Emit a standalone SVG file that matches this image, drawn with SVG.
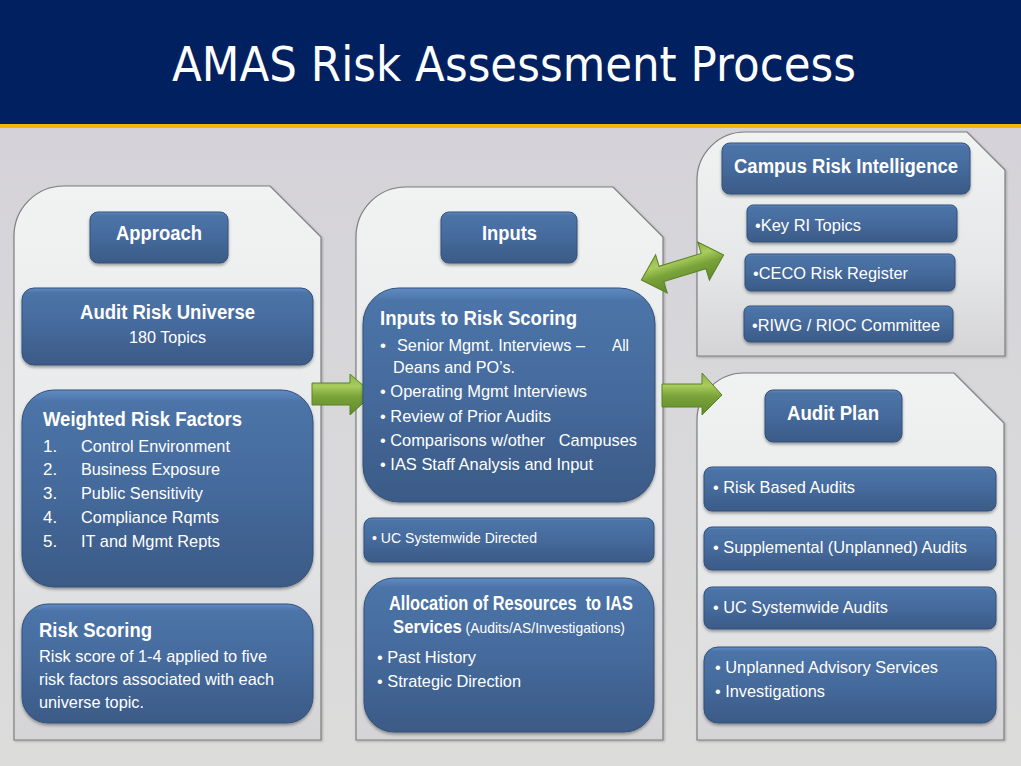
<svg xmlns="http://www.w3.org/2000/svg" width="1021" height="766" viewBox="0 0 1021 766">
<defs>
  <linearGradient id="bg" x1="0" y1="0" x2="0" y2="1">
    <stop offset="0" stop-color="#d3d1d8"/>
    <stop offset="1" stop-color="#dcdcdb"/>
  </linearGradient>
  <linearGradient id="panel" x1="0" y1="0" x2="0" y2="1">
    <stop offset="0" stop-color="#f1f2f2"/>
    <stop offset="0.6" stop-color="#e6e7e8"/>
    <stop offset="1" stop-color="#d4d4d6"/>
  </linearGradient>
  <linearGradient id="blue" x1="0" y1="0" x2="0" y2="1">
    <stop offset="0" stop-color="#5f8cc4"/>
    <stop offset="0.06" stop-color="#4c74a8"/>
    <stop offset="0.5" stop-color="#456a9c"/>
    <stop offset="1" stop-color="#3b5a86"/>
  </linearGradient>
  <linearGradient id="green" x1="0" y1="0" x2="0" y2="1">
    <stop offset="0" stop-color="#8db44a"/>
    <stop offset="0.3" stop-color="#a8cc5c"/>
    <stop offset="0.55" stop-color="#7aa33a"/>
    <stop offset="1" stop-color="#5f8a28"/>
  </linearGradient>
  <filter id="sh" x="-10%" y="-10%" width="120%" height="130%">
    <feDropShadow dx="0" dy="2" stdDeviation="1.5" flood-color="#000" flood-opacity="0.35"/>
  </filter>
  <filter id="psh" x="-5%" y="-5%" width="110%" height="110%">
    <feDropShadow dx="1" dy="1" stdDeviation="1" flood-color="#000" flood-opacity="0.25"/>
  </filter>
</defs>
<style>
  .panel { fill: url(#panel); stroke: #7f7f7f; stroke-width: 1.2; filter: url(#psh); }
  .box { fill: url(#blue); stroke: #34507a; stroke-width: 1; filter: url(#sh); }
  .arrow { fill: url(#green); stroke: #5a8226; stroke-width: 1; }
  text { fill: #ffffff; font-family: "Liberation Sans", Arial, sans-serif; }
  .h { font-weight: bold; font-size: 20px; }
  .t { font-size: 17px; }
  .s { font-size: 15px; }
  .pre { white-space: pre; }
  .title { font-family: "DejaVu Sans", "Liberation Sans", sans-serif; font-size: 48px; }
</style>

<rect x="0" y="0" width="1021" height="766" fill="url(#bg)"/>
<g id="header">
  <rect x="0" y="0" width="1021" height="124" fill="#002060"/>
  <rect x="0" y="124" width="1021" height="4" fill="#f5b800"/>
  <text class="title" x="172" y="81" textLength="684" lengthAdjust="spacingAndGlyphs">AMAS Risk Assessment Process</text>
</g>

<g id="panel-approach">
  <path class="panel" d="M14,236 A50,50 0 0 1 64,186 L270,186 L321,237 L321,740 L14,740 Z"/>
</g>
<g id="panel-inputs">
  <path class="panel" d="M356,237 A50,50 0 0 1 406,187 L613,187 L663,237 L663,740 L356,740 Z"/>
</g>
<g id="panel-campus">
  <path class="panel" d="M697,180 A48,48 0 0 1 745,132 L967,132 L1005,170 L1005,356 L697,356 Z"/>
</g>
<g id="panel-auditplan">
  <path class="panel" d="M697,420 A47,47 0 0 1 744,373 L954,373 L1004,423 L1004,740 L697,740 Z"/>
</g>

<g id="connectors">
  <polygon class="arrow" points="312,383 350,383 350,374 373,394 350,415 350,405 312,405"/>
  <polygon class="arrow" points="662,384 702,384 702,373 722,395 702,415 702,407 662,407"/>
  <g transform="translate(682.5,267.5) rotate(-17)">
    <polygon class="arrow" points="-43,0 -22,-20 -22,-8 22,-8 22,-20 43,0 22,20 22,8 -22,8 -22,20"/>
  </g>
</g>

<g id="approach">
  <rect class="box" x="90" y="212" width="138" height="51" rx="8"/>
  <text class="h" x="116" y="240" font-size="21" textLength="86" lengthAdjust="spacingAndGlyphs">Approach</text>
</g>
<g id="audit-risk-universe">
  <rect class="box" x="22" y="288" width="291" height="77" rx="12"/>
  <text class="h" x="80" y="319" textLength="175" lengthAdjust="spacingAndGlyphs">Audit Risk Universe</text>
  <text class="t" x="129" y="343" textLength="77" lengthAdjust="spacingAndGlyphs">180 Topics</text>
</g>
<g id="weighted-risk-factors">
  <rect class="box" x="22" y="390" width="291" height="197" rx="32"/>
  <text class="h" x="43" y="426" textLength="199" lengthAdjust="spacingAndGlyphs">Weighted Risk Factors</text>
  <text class="t" x="43" y="452">1.</text>
  <text class="t" x="81" y="452" textLength="149" lengthAdjust="spacingAndGlyphs">Control Environment</text>
  <text class="t" x="43" y="475">2.</text>
  <text class="t" x="81" y="475" textLength="139" lengthAdjust="spacingAndGlyphs">Business Exposure</text>
  <text class="t" x="43" y="499">3.</text>
  <text class="t" x="81" y="499" textLength="122" lengthAdjust="spacingAndGlyphs">Public Sensitivity</text>
  <text class="t" x="43" y="523">4.</text>
  <text class="t" x="81" y="523" textLength="138" lengthAdjust="spacingAndGlyphs">Compliance Rqmts</text>
  <text class="t" x="43" y="547">5.</text>
  <text class="t" x="81" y="547" textLength="139" lengthAdjust="spacingAndGlyphs">IT and Mgmt Repts</text>
</g>
<g id="risk-scoring">
  <rect class="box" x="22" y="604" width="291" height="119" rx="26"/>
  <text class="h" x="39" y="637" font-size="21" textLength="113" lengthAdjust="spacingAndGlyphs">Risk Scoring</text>
  <text class="t" x="39" y="662" textLength="228" lengthAdjust="spacingAndGlyphs">Risk score of 1-4 applied to five</text>
  <text class="t" x="39" y="685" textLength="235" lengthAdjust="spacingAndGlyphs">risk factors associated with each</text>
  <text class="t" x="39" y="708" textLength="105" lengthAdjust="spacingAndGlyphs">universe topic.</text>
</g>

<g id="inputs">
  <rect class="box" x="441" y="212" width="136" height="51" rx="8"/>
  <text class="h" x="482" y="240" textLength="55" lengthAdjust="spacingAndGlyphs">Inputs</text>
</g>
<g id="inputs-to-risk-scoring">
  <rect class="box" x="363" y="288" width="292" height="214" rx="36"/>
  <text class="h" x="380" y="325" textLength="197" lengthAdjust="spacingAndGlyphs">Inputs to Risk Scoring</text>
  <text class="t" x="380" y="351">•</text>
  <text class="t" x="397" y="351" textLength="188" lengthAdjust="spacingAndGlyphs">Senior Mgmt. Interviews –</text>
  <text class="t" x="612" y="351" textLength="17" lengthAdjust="spacingAndGlyphs">All</text>
  <text class="t" x="393" y="373" textLength="122" lengthAdjust="spacingAndGlyphs">Deans and PO’s.</text>
  <text class="t" x="380" y="397" textLength="207" lengthAdjust="spacingAndGlyphs">• Operating Mgmt Interviews</text>
  <text class="t" x="380" y="422" textLength="171" lengthAdjust="spacingAndGlyphs">• Review of Prior Audits</text>
  <text class="t pre" x="380" y="446" xml:space="preserve" textLength="257" lengthAdjust="spacingAndGlyphs">• Comparisons w/other   Campuses</text>
  <text class="t" x="380" y="470" textLength="213" lengthAdjust="spacingAndGlyphs">• IAS Staff Analysis and Input</text>
</g>
<g id="uc-systemwide-directed">
  <rect class="box" x="364" y="518" width="290" height="44" rx="8"/>
  <text class="s" x="372" y="543" textLength="165" lengthAdjust="spacingAndGlyphs">• UC Systemwide Directed</text>
</g>
<g id="allocation">
  <rect class="box" x="364" y="578" width="290" height="154" rx="30"/>
  <text class="h pre" x="389" y="610" font-size="18" xml:space="preserve" textLength="244" lengthAdjust="spacingAndGlyphs">Allocation of Resources  to IAS</text>
  <text x="393" y="633" textLength="232" lengthAdjust="spacingAndGlyphs"><tspan font-weight="bold" font-size="18">Services</tspan><tspan font-size="15"> (Audits/AS/Investigations)</tspan></text>
  <text class="t" x="377" y="663" textLength="99" lengthAdjust="spacingAndGlyphs">• Past History</text>
  <text class="t" x="377" y="687" textLength="144" lengthAdjust="spacingAndGlyphs">• Strategic Direction</text>
</g>

<g id="campus-risk-intelligence">
  <rect class="box" x="722" y="143" width="248" height="51" rx="8"/>
  <text class="h" x="734" y="173" textLength="224" lengthAdjust="spacingAndGlyphs">Campus Risk Intelligence</text>
</g>
<g id="key-ri-topics">
  <rect class="box" x="747" y="205" width="210" height="37" rx="6"/>
  <text class="t" x="755" y="231" textLength="106" lengthAdjust="spacingAndGlyphs">•Key RI Topics</text>
</g>
<g id="ceco-risk-register">
  <rect class="box" x="745" y="254" width="210" height="37" rx="6"/>
  <text class="t" x="753" y="279" textLength="155" lengthAdjust="spacingAndGlyphs">•CECO Risk Register</text>
</g>
<g id="riwg-rioc">
  <rect class="box" x="744" y="306" width="209" height="36" rx="6"/>
  <text class="t" x="752" y="331" textLength="188" lengthAdjust="spacingAndGlyphs">•RIWG / RIOC Committee</text>
</g>

<g id="audit-plan">
  <rect class="box" x="765" y="390" width="137" height="52" rx="8"/>
  <text class="h" x="787" y="420" textLength="92" lengthAdjust="spacingAndGlyphs">Audit Plan</text>
</g>
<g id="risk-based-audits">
  <rect class="box" x="704" y="467" width="292" height="44" rx="8"/>
  <text class="t" x="713" y="493" textLength="142" lengthAdjust="spacingAndGlyphs">• Risk Based Audits</text>
</g>
<g id="supplemental-audits">
  <rect class="box" x="704" y="527" width="292" height="43" rx="8"/>
  <text class="t" x="713" y="553" textLength="254" lengthAdjust="spacingAndGlyphs">• Supplemental (Unplanned) Audits</text>
</g>
<g id="uc-systemwide-audits">
  <rect class="box" x="704" y="587" width="292" height="42" rx="8"/>
  <text class="t" x="713" y="613" textLength="175" lengthAdjust="spacingAndGlyphs">• UC Systemwide Audits</text>
</g>
<g id="advisory-investigations">
  <rect class="box" x="704" y="647" width="292" height="76" rx="14"/>
  <text class="t" x="715" y="673" textLength="223" lengthAdjust="spacingAndGlyphs">• Unplanned Advisory Services</text>
  <text class="t" x="715" y="697" textLength="110" lengthAdjust="spacingAndGlyphs">• Investigations</text>
</g>
</svg>
